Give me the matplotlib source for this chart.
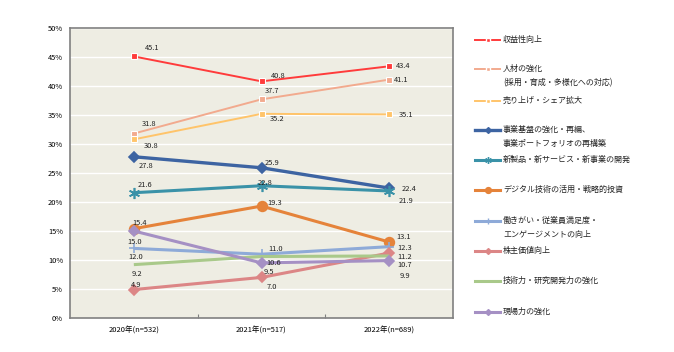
import matplotlib.pyplot as plt
from matplotlib.lines import Line2D

plt.rcParams['font.family'] = ['Noto Sans CJK JP', 'DejaVu Sans']

years = ['2020年(n=532)', '2021年(n=517)', '2022年(n=689)']

names = [
    '収益性向上',
    '人材の強化\n(採用・育成・多様化への対応)',
    '売り上げ・シェア拡大',
    '事業基盤の強化・再編、\n事業ポートフォリオの再構築',
    '新製品・新サービス・新事業の開発',
    'デジタル技術の活用・戦略的投資',
    '働きがい・従業員満足度・\nエンゲージメントの向上',
    '株主価値向上',
    '技術力・研究開発力の強化',
    '現場力の強化',
]

profit = [45.1, 40.8, 43.4]
talent = [31.8, 37.7, 41.1]
sales = [30.8, 35.2, 35.1]
base = [27.8, 25.9, 22.4]
new_biz = [21.6, 22.8, 21.9]
digital = [15.4, 19.3, 13.1]
engage = [12.0, 11.0, 12.3]
shareholder = [4.9, 7.0, 11.2]
tech = [9.2, 10.6, 10.7]
field = [15.0, 9.5, 9.9]

series = [profit, talent, sales, base, new_biz, digital, engage, shareholder, tech, field]

# style per series: color, linewidth, marker, markersize
styles = [
    ('#ff3b3b', 1.4, 's', 5),
    ('#f2aa8e', 1.4, 's', 5),
    ('#ffc46a', 1.4, 's', 5),
    ('#3d64a2', 2.4, 'D', 5),
    ('#3a92a8', 2.2, (6, 2, 0), 8),
    ('#e5833a', 2.2, 'o', 7),
    ('#8eaad8', 2.2, '+', 7),
    ('#dc8686', 2.2, 'D', 5),
    ('#a9c98a', 2.2, None, 0),
    ('#a590c4', 2.2, 'D', 5),
]

# label offsets in pixels (dx, dy) for each point
offsets = [
    [(11, 8), (9, 5), (7, 0)],
    [(8, 10), (3, 8), (5, 0)],
    [(10, -7), (8, -5), (10, -1)],
    [(5, -9), (3, 5), (12, -1)],
    [(4, 8), (-4, 3), (9, -10)],
    [(-1, 6), (6, 3), (7, 5)],
    [(-5, -9), (7, 5), (8, -1)],
    [(-3, 5), (5, -10), (8, -4)],
    [(-2, -9), (5, -6), (8, -9)],
    [(-6, -11), (2, -9), (10, -15)],
]

fig = plt.figure(figsize=(6.74, 3.52), dpi=100)
ax = fig.add_axes([70 / 674, 34 / 352, 383 / 674, 290 / 352])
ax.set_facecolor('#eeede3')

x = range(len(years))
for vals, (c, lw, m, ms), offs in zip(series, styles, offsets):
    mec = 'white' if m in ('s',) else c
    ax.plot(x, vals, color=c, lw=lw, marker=m, markersize=ms,
            markerfacecolor=c, markeredgecolor=mec, markeredgewidth=0.8 if m == 's' else 1.2,
            solid_capstyle='butt', zorder=3)
    for xi, v, (dx, dy) in zip(x, vals, offs):
        ax.annotate(f'{v:.1f}', (xi, v), xytext=(dx, dy), textcoords='offset pixels',
                    ha='left', va='center', fontsize=5.4, color='#222222', zorder=4)

ax.set_xlim(-0.5, 2.5)
ax.set_ylim(0, 50)
ax.set_yticks(range(0, 51, 5))
ax.set_yticklabels([f'{t}%' for t in range(0, 51, 5)])
ax.set_xticks([0.5, 1.5])
ax.set_xticklabels([])
ax.set_xticks(list(x), minor=True)
ax.set_xticklabels(years, minor=True)
ax.tick_params(axis='x', which='minor', length=0, pad=6, labelsize=5.4)
ax.tick_params(axis='x', which='major', length=3, direction='in', color='#808080')
ax.tick_params(axis='y', length=0, pad=5, labelsize=5.4)
ax.grid(axis='y', color='white', lw=1, zorder=1)
for s in ax.spines.values():
    s.set_color('#808080')
    s.set_linewidth(1.2)

# legend drawn manually on the right
leg_y = [40, 69, 101, 130, 160, 190, 221, 251, 281, 312]
for (c, lw, m, ms), name, yp in zip(styles, names, leg_y):
    yf = 1 - yp / 352
    fig.add_artist(Line2D([475 / 674, 500 / 674], [yf, yf], color=c, lw=lw,
                          transform=fig.transFigure))
    if m is not None:
        fig.add_artist(Line2D([488 / 674], [yf], color=c, marker=m, markersize=ms * 0.6,
                              markeredgecolor='white' if m == 's' else c, lw=0,
                              transform=fig.transFigure))
    fig.text(503 / 674, yf + 4.8 / 352, name, fontsize=5.8, va='top', ha='left',
             color='#222222', linespacing=1.75, transform=fig.transFigure)

fig.savefig('out.png', dpi=100, facecolor='white')
